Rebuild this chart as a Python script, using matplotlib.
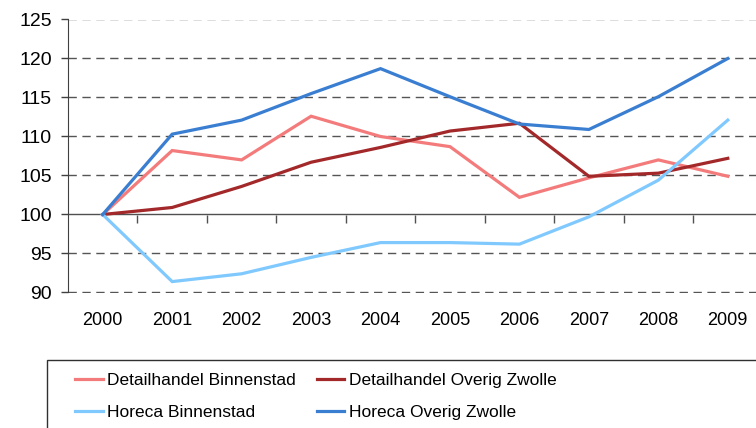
import matplotlib
matplotlib.use('Agg')
import matplotlib.pyplot as plt
from matplotlib.patches import Rectangle

jaren = ['2000', '2001', '2002', '2003', '2004', '2005', '2006', '2007', '2008', '2009']
detail_binnenstad = [100, 108.2, 107.0, 112.6, 110.0, 108.7, 102.2, 104.7, 107.0, 104.9]
detail_overig = [100, 100.9, 103.6, 106.7, 108.6, 110.7, 111.7, 104.9, 105.3, 107.2]
horeca_binnenstad = [100, 91.4, 92.4, 94.5, 96.4, 96.4, 96.2, 99.7, 104.4, 112.1]
horeca_overig = [100, 110.3, 112.1, 115.5, 118.7, 115.1, 111.6, 110.9, 115.1, 120.0]
y_ticks = [90, 95, 100, 105, 110, 115, 120, 125]

reeksen = [
    ('Detailhandel Binnenstad', detail_binnenstad, '#F47B7B'),
    ('Detailhandel Overig Zwolle', detail_overig, '#A3282A'),
    ('Horeca Binnenstad', horeca_binnenstad, '#80C9FF'),
    ('Horeca Overig Zwolle', horeca_overig, '#3A7ED2'),
]

plt.rcParams['font.family'] = ['Liberation Sans', 'DejaVu Sans']

fig = plt.figure(figsize=(7.56, 4.28), dpi=100)
ax = fig.add_axes([68 / 756, 1 - 292.5 / 428, 694.5 / 756, 273 / 428])

x = list(range(len(jaren)))
lijnen = {}
for naam, waarden, kleur in reeksen:
    lijnen[naam], = ax.plot(x, waarden, color=kleur, lw=2.3, label=naam,
                            solid_joinstyle='miter', zorder=3)

ax.set_xlim(-0.5, 9.5)
ax.set_ylim(90, 125)

# gestippelde rasterlijnen, behalve bij 100 (daar ligt de categorie-as)
for y in y_ticks:
    if y == 100:
        ax.axhline(y, color='#505050', lw=1.0, zorder=2)
    else:
        ax.axhline(y, color='#555555', lw=1.0, dashes=(6, 4), zorder=1)

for s in ['top', 'right', 'bottom']:
    ax.spines[s].set_visible(False)
ax.spines['left'].set_color('#404040')

ax.set_yticks(y_ticks)
ax.set_yticklabels([str(v) for v in y_ticks], fontsize=14)
ax.tick_params(axis='y', direction='out', length=5, width=1, color='#404040', pad=6.5)

ax.set_xticks(x)
ax.set_xticklabels(jaren, fontsize=13)
ax.tick_params(axis='x', length=0, pad=14)

# korte streepjes tussen de jaren op de 100-lijn
sec = ax.secondary_xaxis((100 - 90) / (125 - 90))
sec.spines['bottom'].set_visible(False)
sec.set_xticks([i + 0.5 for i in range(9)])
sec.set_xticklabels([])
sec.tick_params(axis='x', direction='out', length=6, width=1, color='#505050')

fig.patches.append(Rectangle((47 / 756, -0.01), 0.95, (428 - 360) / 428 + 0.01,
                             transform=fig.transFigure, fill=False,
                             edgecolor='#303030', lw=1.0))

# volgorde zo dat rij 1 = detailhandel, rij 2 = horeca
volgorde = ['Detailhandel Binnenstad', 'Horeca Binnenstad',
            'Detailhandel Overig Zwolle', 'Horeca Overig Zwolle']
fig.legend([lijnen[n] for n in volgorde], volgorde, ncol=2, frameon=False,
           loc='upper left', bbox_to_anchor=(68 / 756, 1 - 366 / 428),
           fontsize=12.5, handlelength=1.6, handletextpad=0.25,
           columnspacing=1.2, labelspacing=0.95, borderaxespad=0)

fig.savefig('out.png', dpi=100)
